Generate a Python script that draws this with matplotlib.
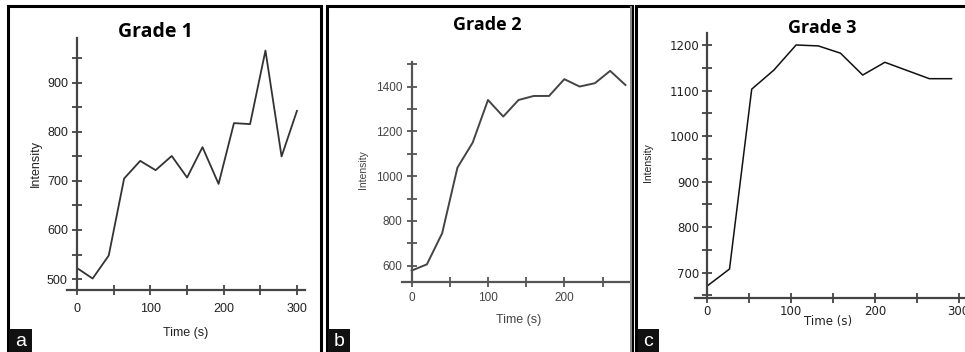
import matplotlib.pyplot as plt
from matplotlib.patches import Rectangle
from matplotlib.ticker import MultipleLocator

# Grade 1 (panel a)
time_a = [0, 21, 43, 64, 86, 107, 129, 150, 171, 193, 214, 236, 257, 279, 300]
int_a = [522, 501, 548, 705, 741, 722, 751, 707, 769, 694, 818, 816, 966, 750, 843]

# Grade 2 (panel b)
time_b = [0, 20, 40, 60, 80, 100, 120, 140, 160, 180, 200, 220, 240, 260, 280]
int_b = [578, 606, 745, 1038, 1150, 1340, 1266, 1340, 1358, 1358, 1433, 1400, 1415, 1470, 1407]

# Grade 3 (panel c)
time_c = [0, 26.5, 53, 79.5, 106, 132.5, 159, 185.5, 212, 238.5, 265, 291.5]
int_c = [671, 708, 1103, 1145, 1200, 1198, 1182, 1134, 1162, 1144, 1126, 1126]

titles = ["Grade 1", "Grade 2", "Grade 3"]
letters = ["a", "b", "c"]

W, H = 965, 352
fig = plt.figure(figsize=(W / 100, H / 100), dpi=100)
fig.patch.set_facecolor("white")

SANS = ["Liberation Sans", "DejaVu Sans"]


def px_axes(x0, y0, x1, y1):
    # pixel box (top-left origin) -> figure fraction axes
    return fig.add_axes([x0 / W, 1 - y1 / H, (x1 - x0) / W, (y1 - y0) / H])


def fig_rect(x0, y0, x1, y1, **kw):
    r = Rectangle((x0 / W, 1 - y1 / H), (x1 - x0) / W, (y1 - y0) / H,
                  transform=fig.transFigure, **kw)
    fig.patches.append(r)


def style_axes(ax, xlim, ylim, ymajor, axcol, labfont, labsize, labcol, xpad, ypad):
    ax.set_xlim(*xlim)
    ax.set_ylim(*ylim)
    ax.patch.set_alpha(0)
    for s in ["top", "right"]:
        ax.spines[s].set_visible(False)
    ax.spines["left"].set_position(("data", 0))
    for s in ["left", "bottom"]:
        ax.spines[s].set_color(axcol)
        ax.spines[s].set_linewidth(1.6)
    ax.xaxis.set_major_locator(MultipleLocator(100))
    ax.xaxis.set_minor_locator(MultipleLocator(50))
    ax.yaxis.set_major_locator(MultipleLocator(ymajor))
    ax.yaxis.set_minor_locator(MultipleLocator(ymajor / 2))
    ax.tick_params(which="both", direction="inout", length=6.5, width=1.3,
                   color=axcol)
    ax.tick_params(which="major", labelsize=labsize, labelcolor=labcol)
    ax.tick_params(axis="x", which="major", pad=xpad)
    ax.tick_params(axis="y", which="major", pad=ypad)
    for lab in ax.get_xticklabels() + ax.get_yticklabels():
        lab.set_family(labfont)


# panel frames
fig_rect(8, 5.5, 320.5, 360, fill=False, ec="black", lw=2.2)
fig_rect(326.5, 5.5, 632, 360, fill=False, ec="black", lw=2.2)
fig_rect(636, 5.5, 990, 360, fill=False, ec="black", lw=2.2)
fig_rect(630, 5.5, 632, 352, fc="#888888", ec="none")

# panel a
ax = px_axes(67, 38.3, 305, 290)
ax.plot(time_a, int_a, color="#333333", lw=1.3)
style_axes(ax, (-14, 311), (477.6, 991), 100, "#444444", SANS, 9, "#222222", 6, 3.5)
ax.set_xticks([0, 100, 200, 300])
ax.set_yticks([500, 600, 700, 800, 900])
fig.text(36 / W, 1 - 163 / H, "Intensity", rotation=90, ha="center", va="center",
         family=SANS, fontsize=9, color="#222222")
fig.text(186 / W, 1 - 333 / H, "Time (s)", ha="center", va="center",
         family=SANS, fontsize=9, color="#222222")

# panel b
ax = px_axes(401.7, 61.7, 630, 281.7)
ax.plot(time_b, int_b, color="#444444", lw=1.4)
style_axes(ax, (-13, 286), (528.5, 1511), 200, "#555555", SANS, 8.5, "#444444", 4, 3.5)
ax.set_xticks([0, 100, 200])
ax.set_yticks([600, 800, 1000, 1200, 1400])
fig.text(363 / W, 1 - 170 / H, "Intensity", rotation=90, ha="center", va="center",
         family=SANS, fontsize=7.5, color="#444444")
fig.text(519 / W, 1 - 320 / H, "Time (s)", ha="center", va="center",
         family=SANS, fontsize=9, color="#444444")

# panel c
ax = px_axes(695, 32.7, 967, 298.3)
ax.plot(time_c, int_c, color="#111111", lw=1.1)
style_axes(ax, (-14.7, 310), (643.7, 1227), 100, "#444444", "DejaVu Sans", 8.5, "#222222", 1.5, 2.5)
ax.set_xticks([0, 100, 200, 300])
ax.set_yticks([700, 800, 900, 1000, 1100, 1200])
fig.text(648 / W, 1 - 163 / H, "Intensity", rotation=90, ha="center", va="center",
         family=SANS, fontsize=7.5, color="#222222")
fig.text(828 / W, 1 - 322 / H, "Time (s)", ha="center", va="center",
         family="DejaVu Sans", fontsize=8.5, color="#222222")

# titles
title_pos = [(155, 32), (487, 25), (822, 28)]
title_size = [14, 13, 13]
for t, (x, y), s in zip(titles, title_pos, title_size):
    fig.text(x / W, 1 - y / H, t, ha="center", va="center", family="Open Sans",
             fontweight="bold", fontsize=s, color="black")

# letter boxes
boxes = [(9, 32), (327.5, 350), (637.5, 659)]
for letter, (x0, x1) in zip(letters, boxes):
    fig_rect(x0, 329, x1, 352, fc="#111111", ec="none")
    fig.text((x0 + x1) / 2 / W, 1 - 341 / H, letter, ha="center", va="center",
             family="Liberation Sans", fontsize=14, color="white")

plt.savefig("out.png", dpi=100)
